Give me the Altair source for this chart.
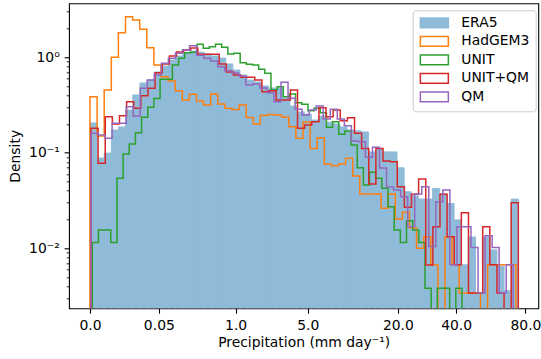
import altair as alt
import numpy as np
import pandas as pd

series_names = ["ERA5", "HadGEM3", "UNIT", "UNIT+QM", "QM"]
series_colors = ["#8fbbd9", "#ff7f0e", "#2ca02c", "#d62728", "#9467bd"]
fill_colors = ["#8fbbd9", "transparent", "transparent", "transparent", "transparent"]

# each histogram: 60 equal bins on a fourth-root axis, between these limits (mm/day)
bin_lo = {"ERA5": 0.0, "HadGEM3": 0.0, "UNIT": 6.2e-8, "UNIT+QM": 2.2e-9, "QM": 2.2e-9}
bin_hi = {"ERA5": 74.9, "HadGEM3": 73.3, "UNIT": 42.6, "UNIT+QM": 74.9, "QM": 71.4}

era5 = [0.205, 0.088, 0.099, 0.173, 0.186, 0.280, 0.402, 0.537, 0.577, 0.700,
        0.809, 0.935, 1.03, 1.11, 1.16, 1.13, 1.08, 1.03, 0.98, 0.85,
        0.734, 0.651, 0.577, 0.55, 0.50, 0.476, 0.476, 0.374, 0.308, 0.267,
        0.254, 0.220, 0.242, 0.209, 0.200, 0.186, 0.173, 0.169, 0.165, 0.102,
        0.109, 0.102, 0.102, 0.0695, 0.039, 0.0353, 0.0327, 0.0327, 0.0423, 0.037,
        0.0294, 0.0198, 0.0067, 0.0131, 0.0034, 0.0131, 0.0096, 0.0065, 0.0036, 0.0327]
hadgem3 = [0.386, 0.150, 0.454, 1.00, 1.805, 2.655, 2.45, 1.96, 1.257, 0.829,
           0.625, 0.564, 0.446, 0.356, 0.409, 0.348, 0.316, 0.412, 0.324, 0.292,
           0.283, 0.316, 0.234, 0.200, 0.245, 0.252, 0.248, 0.235, 0.187, 0.1415,
           0.21, 0.111, 0.1436, 0.0762, 0.0731, 0.0762, 0.0873, 0.057, 0.037, 0.037,
           0.037, 0.0262, 0.037, 0.0202, 0.0238, 0.0163, 0.00998, 0.0132, 0.00667, 0,
           0.0132, 0.0067, 0.0034, 0.0034, 0.0034, 0, 0.0067, 0.0067, 0.0067, 0.0067]
unit = [0.0115, 0.0155, 0.0155, 0.0115, 0.054, 0.0969, 0.1234, 0.162, 0.235, 0.299,
        0.369, 0.587, 0.587, 0.829, 0.974, 1.114, 1.125, 1.365, 1.24, 1.288,
        1.365, 1.27, 1.08, 1.099, 0.876, 0.843, 0.829, 0.747, 0.678, 0.454,
        0.491, 0.386, 0.412, 0.334, 0.321, 0.275, 0.292, 0.262, 0.1845, 0.211,
        0.156, 0.1687, 0.1204, 0.0697, 0.0459, 0.0623, 0.054, 0.0424, 0.0272, 0.0155,
        0.0115, 0.0194, 0.0155, 0.0115, 0.0038, 0, 0.0038, 0.0038, 0, 0.0038]
unit_qm = [0.18, 0.0775, 0.238, 0.2, 0.244, 0.342, 0.292, 0.395, 0.472, 0.688,
           0.849, 1.03, 1.134, 1.19, 1.248, 1.073, 1.073, 1.073, 0.849, 0.70,
           0.651, 0.616, 0.616, 0.577, 0.435, 0.446, 0.356, 0.356, 0.454, 0.18,
           0.195, 0.211, 0.296, 0.238, 0.280, 0.216, 0.2325, 0.16, 0.111, 0.047,
           0.111, 0.0818, 0.0805, 0.044, 0.0268, 0.0367, 0.053, 0.00667, 0.0168, 0.0367,
           0.0132, 0.0067, 0.0235, 0.0034, 0.0034, 0.0168, 0.0067, 0.0034, 0, 0.030]
qm = [0.16, 0.153, 0.1415, 0.203, 0.203, 0.303, 0.242, 0.472, 0.577, 0.651,
      0.863, 0.975, 1.099, 1.19, 1.32, 1.05, 0.975, 0.912, 0.795, 0.722,
      0.683, 0.636, 0.512, 0.524, 0.476, 0.425, 0.342, 0.546, 0.371, 0.285,
      0.248, 0.280, 0.308, 0.225, 0.285, 0.225, 0.192, 0.1326, 0.1303, 0.0895,
      0.114, 0.069, 0.0437, 0.0407, 0.0346, 0.0168, 0.037, 0.044, 0.0104, 0.0307,
      0.0407, 0.0067, 0.0168, 0.0168, 0.0102, 0.0034, 0.0135, 0.0102, 0.0034, 0.0067]

x_ticks = [0, 0.05, 1, 5, 20, 40, 80]
y_ticks = [0.01, 0.1, 1]
y_minor = [0.003, 0.004, 0.005, 0.006, 0.007, 0.008, 0.009,
           0.02, 0.03, 0.04, 0.05, 0.06, 0.07, 0.08, 0.09,
           0.2, 0.3, 0.4, 0.5, 0.6, 0.7, 0.8, 0.9, 2, 3]

FLOOR = 1e-6


def edges_of(name, n):
    t = np.linspace(bin_lo[name] ** 0.25, bin_hi[name] ** 0.25, n + 1)
    return t ** 4


def step_table(name, vals):
    edges = edges_of(name, len(vals))
    xs, ys = [edges[0]], [FLOOR]
    for k, v in enumerate(vals):
        v = v if v > 0 else FLOOR
        xs += [edges[k], edges[k + 1]]
        ys += [v, v]
    xs.append(edges[-1])
    ys.append(FLOOR)
    return pd.DataFrame({"x": xs, "y": ys, "series": name, "order": np.arange(len(xs))})


def bar_table(name, vals):
    edges = edges_of(name, len(vals))
    return pd.DataFrame({"lo": edges[:-1], "hi": edges[1:], "y": vals,
                         "base": FLOOR, "series": name})


df_era5 = bar_table("ERA5", era5)
df_lines = pd.concat([step_table("HadGEM3", hadgem3), step_table("UNIT", unit),
                      step_table("UNIT+QM", unit_qm), step_table("QM", qm)],
                     ignore_index=True)

FS = 13.9
x_scale = alt.Scale(type="pow", exponent=0.25, domain=[-0.000432, 89.88], nice=False, zero=False)
y_scale = alt.Scale(type="log", domain=[0.00235, 3.67], nice=False)

x_axis = alt.Axis(values=x_ticks, labelExpr="datum.value == 0.05 ? '0.05' : format(datum.value, '.1f')",
                  title="Precipitation (mm day⁻¹)", grid=False, domain=False,
                  tickSize=4.9, tickWidth=1.1, tickColor="black", labelPadding=4.8,
                  labelFlush=False, labelOverlap=False, labelFontSize=FS, titleFontSize=FS,
                  titleY=38.4, titleBaseline="alphabetic")
y_major_axis = alt.Axis(values=y_ticks, orient="left",
                        labelExpr="datum.value == 1 ? '10⁰' : (datum.value == 0.1 ? '10⁻¹' : '10⁻²')",
                        title="Density", grid=False, domain=False, tickSize=4.9, tickWidth=1.1,
                        tickColor="black", labelPadding=4.9, labelOverlap=False, labelFontSize=FS,
                        titleFontSize=FS, titleX=-53.2, titleY=152.5, titleBaseline="middle",
                        titleAngle=270)
y_minor_axis = alt.Axis(values=y_minor, orient="left", labels=False, title="", grid=False,
                        domain=False, tickSize=2.8, tickWidth=0.83, tickColor="black")

legend = alt.Legend(title=None, orient="none", legendX=343.7, legendY=7.0,
                    symbolType="M-1,-0.98L4.6,-0.98L4.6,0.98L-1,0.98Z", symbolSize=100,
                    symbolStrokeWidth=1.5, labelFontSize=FS, labelOffset=29, padding=5.7,
                    rowPadding=2.5, strokeColor="#cccccc", cornerRadius=3,
                    fillColor="rgba(255,255,255,0.8)", labelLimit=300)

fill_scale = alt.Scale(domain=series_names, range=fill_colors)
stroke_scale = alt.Scale(domain=series_names, range=series_colors)

bars = alt.Chart(df_era5).mark_rect(clip=True, opacity=1).encode(
    x=alt.X("lo:Q", scale=x_scale, axis=x_axis),
    x2=alt.X2("hi"),
    y=alt.Y("y:Q", scale=y_scale, axis=y_minor_axis),
    y2=alt.Y2("base"),
    fill=alt.Fill("series:N", scale=fill_scale, legend=legend),
    stroke=alt.Stroke("series:N", scale=stroke_scale, legend=legend),
    strokeWidth=alt.value(1.0),
)

lines = alt.Chart(df_lines).mark_line(clip=True, strokeWidth=1.5, interpolate="linear").encode(
    x=alt.X("x:Q", scale=x_scale, axis=x_axis),
    y=alt.Y("y:Q", scale=y_scale, axis=y_major_axis),
    stroke=alt.Stroke("series:N", scale=stroke_scale, legend=legend),
    detail="series:N",
    order=alt.Order("order:Q"),
)

chart = alt.layer(bars, lines).resolve_axis(y="independent").properties(
    width=469.3, height=305,
    padding={"left": 69, "top": 3.3, "right": 2.7, "bottom": 50.7},
    autosize=alt.AutoSizeParams(type="none"),
    background="white",
).configure_view(stroke="black", strokeWidth=1.1).configure_axis(
    labelFont="DejaVu Sans", titleFont="DejaVu Sans", labelColor="black", titleColor="black",
    titleFontWeight="normal",
).configure_legend(labelFont="DejaVu Sans", labelColor="black")

chart.save("out.html", embed_options={"renderer": "svg", "actions": False})
